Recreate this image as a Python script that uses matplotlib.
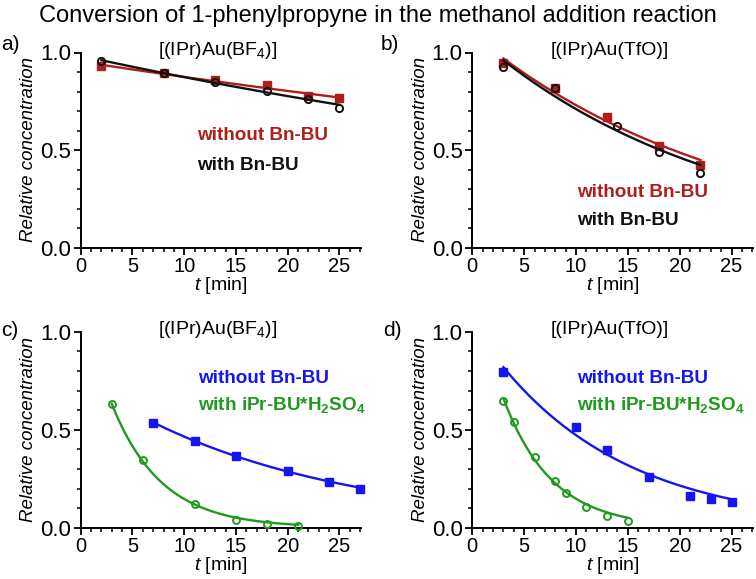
import numpy as np
import matplotlib
matplotlib.use("Agg")
import matplotlib.pyplot as plt
from matplotlib.ticker import MultipleLocator, FormatStrFormatter

plt.rcParams["font.family"] = ["Liberation Sans", "DejaVu Sans"]
plt.rcParams["mathtext.fontset"] = "custom"
plt.rcParams["mathtext.rm"] = "Liberation Sans"
plt.rcParams["mathtext.it"] = "Liberation Sans:italic"
plt.rcParams["mathtext.bf"] = "Liberation Sans:bold"

RED = "#b01e1a"
BLACK = "#111111"
BLUE = "#1414f5"
GREEN = "#1f9a1c"

# panel a: [(IPr)Au(BF4)]
a_t = [2, 8, 13, 18, 22, 25]
a_without = [0.929, 0.893, 0.859, 0.831, 0.775, 0.766]
a_with = [0.954, 0.895, 0.851, 0.802, 0.763, 0.717]

# panel b: [(IPr)Au(TfO)]
b_t_without = [3, 8, 13, 18, 22]
b_without = [0.946, 0.817, 0.669, 0.520, 0.424]
b_t_with = [3, 8, 14, 18, 22]
b_with = [0.924, 0.817, 0.624, 0.492, 0.381]

# panel c: [(IPr)Au(BF4)]
c_t_without = [7, 11, 15, 20, 24, 27]
c_without = [0.536, 0.442, 0.367, 0.291, 0.235, 0.199]
c_t_ipr = [3, 6, 11, 15, 18, 21]
c_ipr = [0.629, 0.345, 0.119, 0.039, 0.017, 0.010]

# panel d: [(IPr)Au(TfO)]
d_t_without = [3, 10, 13, 17, 21, 23, 25]
d_without = [0.796, 0.514, 0.396, 0.259, 0.162, 0.146, 0.129]
d_t_ipr = [3, 4, 6, 8, 9, 11, 13, 15]
d_ipr = [0.648, 0.541, 0.359, 0.238, 0.177, 0.107, 0.061, 0.036]

panel_letters = ["a)", "b)", "c)", "d)"]
panel_titles = [r"[(IPr)Au(BF$_4$)]", "[(IPr)Au(TfO)]",
                r"[(IPr)Au(BF$_4$)]", "[(IPr)Au(TfO)]"]


def exp_fit(t, y):
    # first-order decay fit, log-linear weighted by y
    t = np.asarray(t, float)
    y = np.asarray(y, float)
    k, lna = np.polyfit(t, np.log(y), 1, w=y)
    tt = np.linspace(t.min(), t.max(), 200)
    return tt, np.exp(lna + k * tt)


def style_axes(ax):
    ax.set_xlim(0, 27.1)
    ax.set_ylim(0, 1.0)
    ax.spines["top"].set_visible(False)
    ax.spines["right"].set_visible(False)
    ax.spines["left"].set_linewidth(1.4)
    ax.spines["bottom"].set_linewidth(1.4)
    ax.xaxis.set_major_locator(MultipleLocator(5))
    ax.xaxis.set_minor_locator(MultipleLocator(1))
    ax.yaxis.set_major_locator(MultipleLocator(0.5))
    ax.yaxis.set_minor_locator(MultipleLocator(0.1))
    ax.yaxis.set_major_formatter(FormatStrFormatter("%.1f"))
    ax.tick_params(axis="both", which="major", direction="out", length=5, width=1.3)
    ax.tick_params(axis="both", which="minor", direction="out", length=3, width=1.1)
    ax.tick_params(axis="x", which="major", labelsize=14.5, pad=2)
    ax.tick_params(axis="y", which="major", labelsize=16, pad=2)
    ax.set_xlabel(r"$\it{t}$ [min]", fontsize=14, labelpad=-1)
    ax.set_ylabel("Relative concentration", fontsize=13.5, style="italic", labelpad=2)


def add_series(ax, t, y, color, marker, ms, z):
    tt, yy = exp_fit(t, y)
    ax.plot(tt, yy, color=color, lw=1.7, zorder=z, clip_on=False)
    if marker == "s":
        ax.plot(t, y, "s", color=color, ms=ms, zorder=z + 1, clip_on=False)
    else:
        ax.plot(t, y, "o", mfc="none", mec=color, mew=1.4, ms=ms,
                zorder=z + 1, clip_on=False)


fig = plt.figure(figsize=(7.56, 5.79), dpi=100)
W, H = 756.0, 579.0
# pixel boxes: left, right, top, bottom
boxes = [
    (80.7, 361.2, 52.5, 247.5),
    (472.3, 753.3, 52.5, 247.5),
    (80.7, 361.2, 331.7, 527.7),
    (472.3, 753.3, 331.7, 527.7),
]
axes = []
for l, r, t, b in boxes:
    ax = fig.add_axes([l / W, 1 - b / H, (r - l) / W, (b - t) / H])
    style_axes(ax)
    axes.append(ax)

ax_a, ax_b, ax_c, ax_d = axes

add_series(ax_a, a_t, a_without, RED, "s", 5.8, 2)
add_series(ax_a, a_t, a_with, BLACK, "o", 5.2, 4)
add_series(ax_b, b_t_without, b_without, RED, "s", 5.8, 2)
add_series(ax_b, b_t_with, b_with, BLACK, "o", 5.2, 4)
add_series(ax_c, c_t_without, c_without, BLUE, "s", 6, 2)
add_series(ax_c, c_t_ipr, c_ipr, GREEN, "o", 5, 4)
add_series(ax_d, d_t_without, d_without, BLUE, "s", 6, 2)
add_series(ax_d, d_t_ipr, d_ipr, GREEN, "o", 5, 4)

legend_font = dict(fontsize=13.6, fontweight="bold", va="center", ha="left")
ax_a.text(11.2, 0.576, "without Bn-BU", color=RED, **legend_font)
ax_a.text(11.2, 0.42, "with Bn-BU", color=BLACK, **legend_font)
ax_b.text(10.1, 0.284, "without Bn-BU", color=RED, **legend_font)
ax_b.text(10.1, 0.139, "with Bn-BU", color=BLACK, **legend_font)
for ax, x0 in [(ax_c, 11.3), (ax_d, 10.1)]:
    ax.text(x0, 0.762, "without Bn-BU", color=BLUE, **legend_font)
    ax.text(x0, 0.626, r"with iPr-BU*H$_\mathbf{2}$SO$_\mathbf{4}$", color=GREEN, **legend_font)

for ax, title in zip(axes, panel_titles):
    ax.text(0.49, 1.01, title, transform=ax.transAxes, ha="center", va="center",
            fontsize=14)

letter_pos = [(1, 45), (381, 45), (1, 331), (383, 331)]
for (x, y), letter in zip(letter_pos, panel_letters):
    fig.text(x / W, 1 - y / H, letter, fontsize=15, ha="left", va="center")

fig.text(0.5, 1 - 16 / H, "Conversion of 1-phenylpropyne in the methanol addition reaction",
         ha="center", va="center", fontsize=17)

fig.savefig("out.png", dpi=100)
